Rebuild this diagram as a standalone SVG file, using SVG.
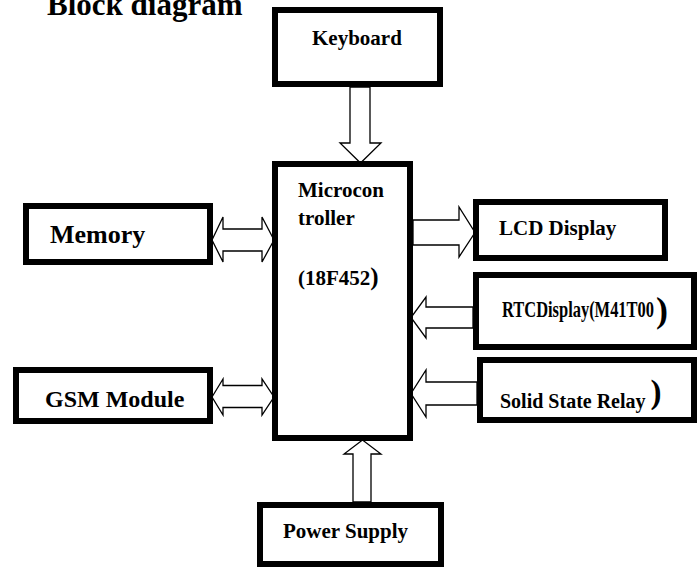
<svg xmlns="http://www.w3.org/2000/svg" width="700" height="567" viewBox="0 0 700 567">
<style>
.box{fill:#fff;stroke:#000;stroke-width:6}
.arr{fill:#fff;stroke:#000;stroke-width:1.3;stroke-linejoin:miter}
text{font-family:"Liberation Serif","Times New Roman",serif;font-weight:bold;fill:#000}
</style>
<rect width="700" height="567" fill="#fff"/>
<text x="47" y="15" font-size="31">Block diagram</text>
<g id="connectors">
<path class="arr" d="M350,87 L350,143 L340,143 L360.5,163 L381,143 L370,143 L370,87 Z"/>
<path class="arr" d="M413,220 L459,220 L459,207 L475,232.5 L459,257 L459,245 L413,245 Z"/>
<path class="arr" d="M473,307 L426,307 L426,297 L411,317.5 L426,338 L426,328 L473,328 Z"/>
<path class="arr" d="M477,382 L426,382 L426,370 L411,393.5 L426,417 L426,405 L477,405 Z"/>
<path class="arr" d="M212,240 L223,217 L223,229 L262,229 L262,217 L274,240 L262,262 L262,251 L223,251 L223,262 Z"/>
<path class="arr" d="M212,397 L223,379 L223,385.5 L262,385.5 L262,379 L274,397 L262,415 L262,407.5 L223,407.5 L223,415 Z"/>
<path class="arr" d="M353,502 L353,454 L344,454 L362.5,440 L381,454 L371,454 L371,502 Z"/>
</g>
<g id="keyboard">
<rect class="box" x="275" y="10" width="165" height="74"/>
<text x="312" y="45" font-size="21">Keyboard</text>
</g>
<g id="microcontroller">
<rect class="box" x="275" y="164" width="135" height="274"/>
<text x="298" y="197" font-size="21">Microcon</text>
<text x="298" y="225" font-size="21">troller</text>
<text x="298" y="285" font-size="21">(18F452<tspan font-size="25">)</tspan></text>
</g>
<g id="lcd">
<rect class="box" x="476" y="202" width="189" height="56"/>
<text x="499" y="235" font-size="21">LCD Display</text>
</g>
<g id="rtc">
<rect class="box" x="476" y="275" width="218" height="72"/>
<text x="502" y="317" font-size="23"><tspan textLength="152" lengthAdjust="spacingAndGlyphs">RTCDisplay(M41T00</tspan><tspan font-size="36" dx="2" dy="5">)</tspan></text>
</g>
<g id="ssr">
<rect class="box" x="480" y="360" width="214" height="60"/>
<text x="500" y="408" font-size="20">Solid State Relay <tspan font-size="33" dy="-5">)</tspan></text>
</g>
<g id="memory">
<rect class="box" x="26" y="206" width="184" height="56"/>
<text x="50" y="243" font-size="26">Memory</text>
</g>
<g id="gsm">
<rect class="box" x="16" y="370" width="194" height="51"/>
<text x="45" y="407" font-size="24">GSM Module</text>
</g>
<g id="power">
<rect class="box" x="260" y="505" width="181" height="59"/>
<text x="283" y="538" font-size="21">Power Supply</text>
</g>
</svg>
